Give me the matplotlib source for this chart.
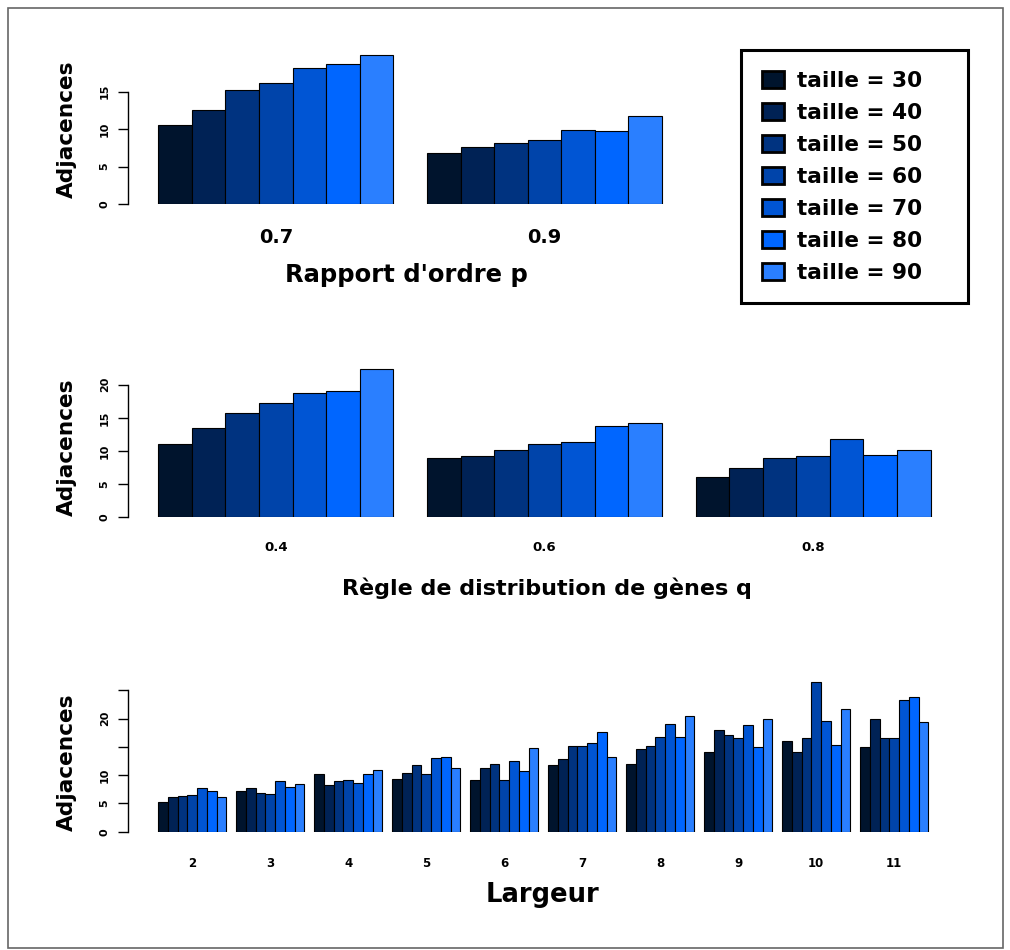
import numpy as np
import matplotlib
matplotlib.use("Agg")
import matplotlib.pyplot as plt
from matplotlib.patches import Rectangle

# data
tailles = [30, 40, 50, 60, 70, 80, 90]
colors = ['#00142d', '#002255', '#003380', '#0044aa', '#0055d4', '#0066ff', '#2a7fff']

p_labels = ['0.7', '0.9']
p_values = [
    [10.6, 12.6, 15.2, 16.2, 18.1, 18.7, 19.9],
    [6.8, 7.6, 8.1, 8.5, 9.9, 9.8, 11.8],
]

q_labels = ['0.4', '0.6', '0.8']
q_values = [
    [11.1, 13.5, 15.8, 17.3, 18.7, 19.0, 22.4],
    [8.9, 9.3, 10.1, 11.0, 11.4, 13.8, 14.3],
    [6.1, 7.5, 9.0, 9.2, 11.8, 9.4, 10.2],
]

l_labels = ['2', '3', '4', '5', '6', '7', '8', '9', '10', '11']
l_values = [
    [5.3, 6.2, 6.3, 6.4, 7.7, 7.2, 6.1],
    [7.2, 7.7, 6.8, 6.7, 9.0, 7.9, 8.4],
    [10.2, 8.2, 9.0, 9.1, 8.6, 10.2, 10.9],
    [9.3, 10.3, 11.8, 10.2, 13.0, 13.2, 11.2],
    [9.2, 11.2, 11.9, 9.1, 12.5, 10.7, 14.8],
    [11.8, 12.8, 15.1, 15.1, 15.7, 17.6, 13.2],
    [12.0, 14.6, 15.1, 16.7, 19.1, 16.7, 20.4],
    [14.0, 18.0, 17.0, 16.6, 18.9, 15.0, 19.9],
    [16.0, 14.0, 16.6, 26.5, 19.6, 15.3, 21.6],
    [15.0, 20.0, 16.6, 16.6, 23.3, 23.8, 19.3],
]

W, H = 1010, 950
fig = plt.figure(figsize=(W / 100, H / 100), dpi=100)
plt.rcParams['font.weight'] = 'bold'


def px_axes(left, top, right, bottom):
    # axes placed from pixel box
    return fig.add_axes([left / W, 1 - bottom / H, (right - left) / W, (bottom - top) / H])


def grouped(ax, values, labels, xlim, ylim, yticks, yticklabels, ybound,
            xfs, xpad):
    n = len(tailles)
    bars = []
    for j in range(n):
        xs = [1 + g * (n + 1) + j for g in range(len(values))]
        hs = [grp[j] for grp in values]
        b = ax.bar(xs, hs, width=1, align='edge', color=colors[j],
                   edgecolor='black', linewidth=0.8,
                   label='taille = %d' % tailles[j])
        bars.append(b)
    centers = [1 + g * (n + 1) + n / 2 for g in range(len(values))]
    ax.set_xticks(centers)
    ax.set_xticklabels(labels, fontsize=xfs, fontweight='bold')
    ax.tick_params(axis='x', length=0, pad=xpad)
    ax.set_xlim(*xlim)
    ax.set_ylim(*ylim)
    ax.set_yticks(yticks)
    ax.set_yticklabels(yticklabels, rotation=90, va='center', fontsize=8,
                       fontweight='bold')
    ax.tick_params(axis='y', length=7.2, width=1, pad=6)
    for s in ['top', 'right', 'bottom']:
        ax.spines[s].set_visible(False)
    ax.spines['left'].set_bounds(*ybound)
    ax.spines['left'].set_linewidth(1)
    ax.patch.set_visible(False)
    return bars


# panel 1 : rapport d'ordre p
ax1 = px_axes(128, 40, 940, 204)
bars1 = grouped(ax1, p_values, p_labels, (0.097, 24.28), (0, 21.9),
                [0, 5, 10, 15], ['0', '5', '10', '15'], (0, 15), 14, 17)
fig.text(406 / W, 1 - 275 / H, "Rapport d'ordre p", fontsize=17.5,
         fontweight='bold', ha='center', va='center')
fig.text(67 / W, 1 - 129 / H, 'Adjacences', fontsize=15.6, fontweight='bold',
         rotation=90, ha='center', va='center')

# panel 2 : regle de distribution q
ax2 = px_axes(128, 360, 940, 517.3)
grouped(ax2, q_values, q_labels, (0.097, 24.28), (0, 23.73),
        [0, 5, 10, 15, 20], ['0', '5', '10', '15', '20'], (0, 20), 9.5, 17)
fig.text(547 / W, 1 - 588 / H, 'Règle de distribution de gènes q', fontsize=16,
         fontweight='bold', ha='center', va='center')
fig.text(67 / W, 1 - 447 / H, 'Adjacences', fontsize=15.6, fontweight='bold',
         rotation=90, ha='center', va='center')

# panel 3 : largeur
ax3 = px_axes(128, 670, 940, 831.7)
grouped(ax3, l_values, l_labels, (-2.08, 81.2), (0, 28.57),
        [0, 5, 10, 15, 20, 25], ['0', '5', '10', '', '20', ''], (0, 25), 8.5, 18)
fig.text(543 / W, 1 - 895 / H, 'Largeur', fontsize=18.6, fontweight='bold',
         ha='center', va='center')
fig.text(67 / W, 1 - 762 / H, 'Adjacences', fontsize=15.6, fontweight='bold',
         rotation=90, ha='center', va='center')

# legend
leg = fig.legend(handles=bars1, loc='upper left',
                 bbox_to_anchor=(741 / W, 1 - 307 / H, 227 / W, 257 / H),
                 mode='expand', borderaxespad=0,
                 prop={'weight': 'bold', 'size': 15.6},
                 handlelength=1.03, handleheight=0.84, handletextpad=0.6,
                 labelspacing=0.55, borderpad=0.95, fancybox=False,
                 framealpha=1)
leg.get_frame().set_edgecolor('black')
leg.get_frame().set_linewidth(2.2)
for h in leg.legend_handles:
    h.set_linewidth(2)

# outer border
fig.patches.append(Rectangle((8 / W, 2 / H), 995 / W, 940 / H, transform=fig.transFigure,
                             fill=False, edgecolor='#666666', linewidth=1.2))

fig.savefig('out.png', dpi=100)
